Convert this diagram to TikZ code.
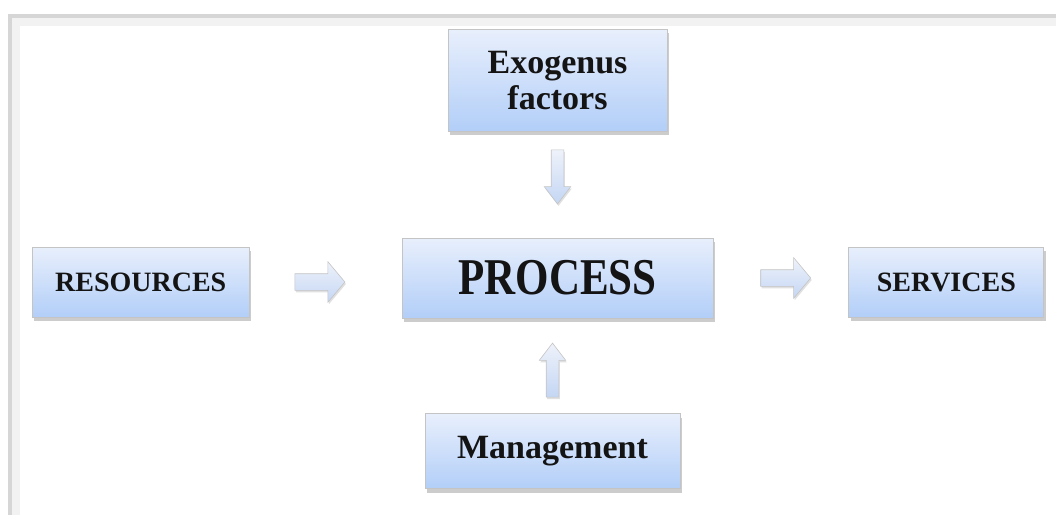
\documentclass[tikz,border=0pt]{standalone}
\usepackage{fontspec}
\setmainfont{Liberation Serif}
\usepackage{graphicx}
\usetikzlibrary{positioning}
\usetikzlibrary{shapes.arrows}
\usetikzlibrary{shadows}
\definecolor{boxtop}{RGB}{232,239,252}
\definecolor{boxbottom}{RGB}{178,206,248}
\definecolor{boxline}{RGB}{196,196,196}
\definecolor{arrtop}{RGB}{238,242,250}
\definecolor{arrbottom}{RGB}{196,214,244}
\definecolor{framegray}{RGB}{214,214,214}

\begin{document}
\begin{tikzpicture}[
            x = 1pt, y = -1pt, % one unit per pixel
            box/.style = {
                rectangle,
                draw = boxline,
                line width = 0.8pt,
                top color = boxtop,
                bottom color = boxbottom,
                drop shadow = {shadow xshift=2pt, shadow yshift=-4pt, fill=black!40, opacity=.5},
                text = black!92,
                align = center,
                inner sep = 0pt
            },
            blockarrow/.style = {
                single arrow,
                draw = boxline,
                line width = 0.6pt,
                top color = arrtop,
                bottom color = arrbottom,
                drop shadow = {shadow xshift=1pt, shadow yshift=-2pt, fill=black!30, opacity=.4},
                single arrow head indent = 0pt
            },
            harrow/.style = {
                blockarrow,
                minimum height = 50pt,
                inner xsep = 0pt,
                inner ysep = 8pt,
                single arrow head extend = 12pt,
                single arrow tip angle = 100
            },
            varrow/.style = {
                blockarrow,
                minimum height = 54pt,
                inner xsep = 6pt,
                inner ysep = 0pt,
                single arrow head extend = 7pt,
                single arrow tip angle = 75
            }
        ]

        \useasboundingbox (0,0) rectangle (1056,514);

        % frame
        \draw[black!5, line width = 8pt] (16,530) -- (16,22) -- (1070,22);
        \draw[framegray, line width = 3.5pt] (10,530) -- (10,16) -- (1070,16);

        % boxes
        \node[box, minimum width = 311pt, minimum height = 80pt,
              font = \bfseries\fontsize{43}{50}\selectfont] (proc) at (557.5,278)
            {\scalebox{1}[1.2]{PROCESS}};
        \node[box, minimum width = 217pt, minimum height = 70pt,
              font = \bfseries\fontsize{28}{34}\selectfont] (res) [left = 152pt of proc, yshift = -4pt]
            {RESOURCES};
        \node[box, minimum width = 195pt, minimum height = 70pt,
              font = \bfseries\fontsize{28}{34}\selectfont] (serv) [right = 135pt of proc, yshift = -4pt]
            {SERVICES};
        \node[box, minimum width = 219pt, minimum height = 102pt,
              font = \bfseries\fontsize{34}{36}\selectfont] (exo) [above = 106pt of proc]
            {Exogenus\\factors};
        \node[box, minimum width = 255pt, minimum height = 75pt,
              font = \bfseries\fontsize{34}{40}\selectfont] (mgmt) [below = 95pt of proc, xshift = -5pt]
            {Management};

        % arrows
        \node[harrow] (a1) [right = 45pt of res] {};
        \node[harrow] (a2) [right = 47pt of proc] {};
        \node[varrow, shape border rotate = 270] (a3) [below = 18pt of exo] {};
        \node[varrow, shape border rotate = 90] (a4) [above = 16pt of mgmt] {};

\end{tikzpicture}
\end{document}
